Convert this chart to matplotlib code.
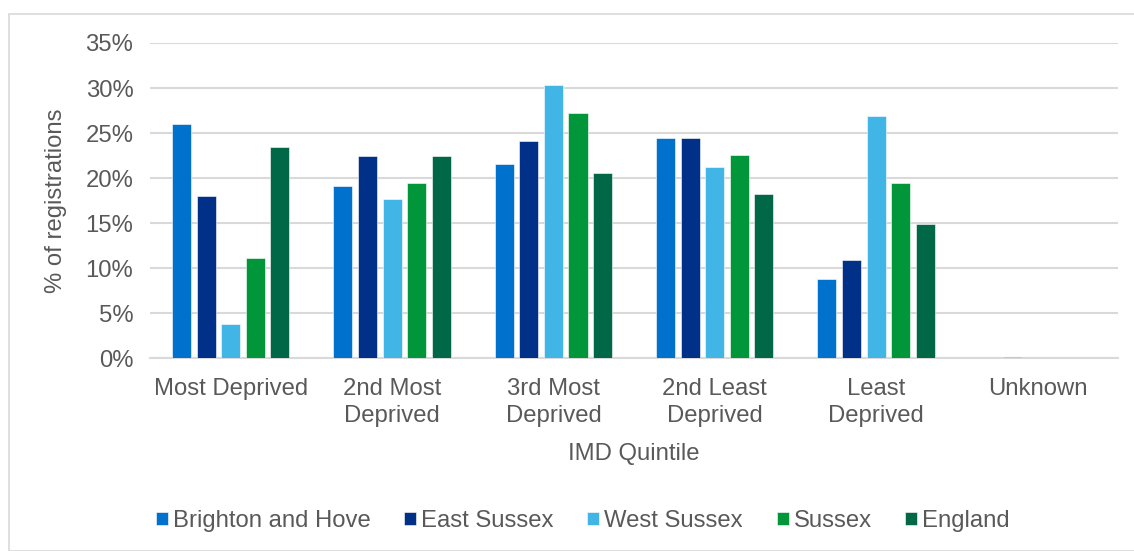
import numpy as np
import matplotlib
matplotlib.use("Agg")
import matplotlib.pyplot as plt
from matplotlib.patches import Rectangle

# values (% of registrations)
quintiles = ['Most Deprived', '2nd Most\nDeprived', '3rd Most\nDeprived',
             '2nd Least\nDeprived', 'Least\nDeprived', 'Unknown']
areas = ['Brighton and Hove', 'East Sussex', 'West Sussex', 'Sussex', 'England']
brighton = [26.0, 19.1, 21.6, 24.4, 8.8, 0.0]
east_sussex = [18.0, 22.5, 24.1, 24.4, 10.9, 0.1]
west_sussex = [3.8, 17.7, 30.3, 21.2, 26.9, 0.0]
sussex = [11.1, 19.4, 27.2, 22.6, 19.4, 0.0]
england = [23.5, 22.4, 20.6, 18.2, 14.9, 0.0]
colours = ['#0072CE', '#003087', '#41B6E6', '#009639', '#006747']

plt.rcParams['font.family'] = ['Liberation Sans', 'DejaVu Sans']
grey = '#595959'
fs = 17.2

fig = plt.figure(figsize=(11.34, 5.51), dpi=100)
ax = fig.add_axes([0.1323, 0.350, 0.8537, 0.572])

# light border round the whole chart
fig.patches.append(Rectangle((9 / 1134, 0.0), 1.0, 1 - 14 / 551, transform=fig.transFigure,
                             fill=False, edgecolor='#D9D9D9', linewidth=1.2))

x = np.arange(len(quintiles))
step = 0.1525
width = 0.118
series = [brighton, east_sussex, west_sussex, sussex, england]
for i, (name, vals) in enumerate(zip(areas, series)):
    ax.bar(x + (i - 2) * step, vals, width, color=colours[i], label=name,
           edgecolor='white', linewidth=0.4, zorder=3)

ax.set_xlim(-0.5, len(quintiles) - 0.5)
ax.set_ylim(0, 35)
ax.set_yticks(np.arange(0, 36, 5))
ax.set_yticklabels([f'{v}%' for v in range(0, 36, 5)])
ax.set_xticks(x)
ax.set_xticklabels(quintiles, linespacing=1.3)
ax.tick_params(axis='both', length=0, colors=grey, labelsize=fs)
ax.tick_params(axis='x', pad=14)
ax.tick_params(axis='y', pad=12)
ax.yaxis.grid(True, color='#D9D9D9', linewidth=1.5, zorder=0)
ax.set_axisbelow(True)
for s in ['top', 'right', 'left']:
    ax.spines[s].set_visible(False)
ax.spines['bottom'].set_color('#D9D9D9')
ax.spines['bottom'].set_linewidth(1.5)

ax.set_ylabel('% of registrations', fontsize=fs, color=grey, labelpad=13)
ax.set_xlabel('IMD Quintile', fontsize=fs, color=grey, labelpad=12)

leg = fig.legend(loc='center', bbox_to_anchor=(0.514, 1 - 521 / 551), ncol=5,
                 frameon=False, fontsize=fs, handlelength=0.5, handleheight=0.5,
                 handletextpad=0.2, columnspacing=1.42)
for t in leg.get_texts():
    t.set_color(grey)

fig.savefig('out.png', dpi=100)
